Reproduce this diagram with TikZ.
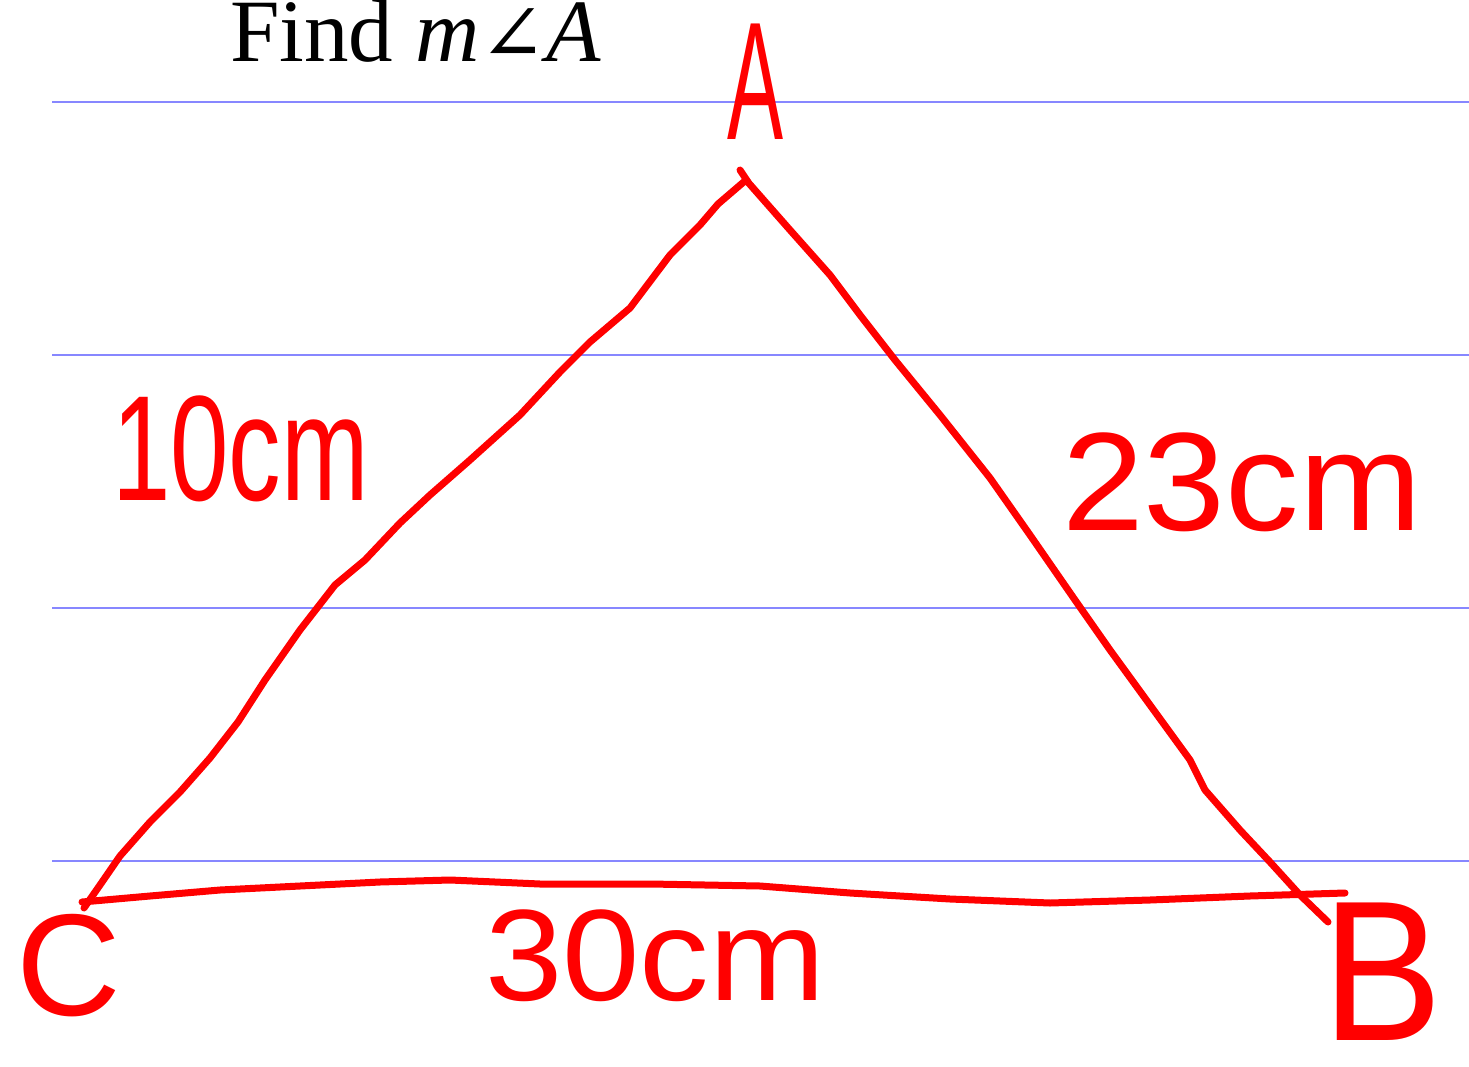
\documentclass[tikz,border=0pt]{standalone}
\usepackage{fontspec}
\setmainfont{Liberation Serif}
\newfontfamily\handfont{Liberation Sans}
\newfontfamily\anglefont{DejaVu Serif}
\begin{document}
\begin{tikzpicture}[x=1pt,y=-1pt,
  rule/.style={draw={rgb,255:red,135;green,135;blue,255},line width=2.5pt},
  side/.style={draw=red,line width=7pt,line cap=round,line join=round},
  hand/.style={text=red,inner sep=0pt,anchor=base west,font=\handfont}]
\useasboundingbox[fill=white] (0,0) rectangle (1469,1067);
% ruled lines
\foreach \yy/\nm in {102/r1,355/r2,608/r3,861/r4}{
  \coordinate (\nm a) at (52,\yy);
  \coordinate (\nm b) at (1469,\yy);
  \draw[rule] (\nm a) -- (\nm b);
}
% title
\node[anchor=base west,inner sep=0pt,font=\fontsize{89}{100}\selectfont] (title) at (230,62) {Find \textit{m}{\anglefont\fontsize{80}{90}\selectfont ∠}\textit{A}};
% vertices
\coordinate (A) at (746,180);
\coordinate (B) at (1328,922);
\coordinate (C) at (84,908);
\coordinate (Bend) at (1345,893);
\coordinate (Cstart) at (82,902);
% sides
\draw[side] (740,170) -- (748,182) -- (A);
\draw[side] (A) -- (718,204) -- (700,225) -- (670,255) -- (630,308) -- (590,342) -- (560,372)
  -- (520,415) -- (470,460) -- (430,495) -- (400,523) -- (365,560) -- (335,585)
  -- (300,630) -- (265,680) -- (238,722) -- (210,758) -- (180,792) -- (150,822)
  -- (120,856) -- (100,885) -- (C);
\draw[side] (A) -- (790,230) -- (830,275) -- (860,315) -- (895,360) -- (940,415)
  -- (990,478) -- (1030,535) -- (1075,600) -- (1110,650) -- (1150,705) -- (1190,760)
  -- (1205,790) -- (1240,830) -- (1270,862) -- (1300,895) -- (B);
\draw[side] (Cstart) -- (150,896) -- (220,890) -- (300,886) -- (380,882) -- (450,880)
  -- (540,884) -- (650,884) -- (760,886) -- (850,893) -- (950,899) -- (1050,903)
  -- (1150,900) -- (1250,896) -- (Bend);
% labels
\node[hand,font=\handfont\fontsize{168}{170}\selectfont,xscale=0.5] (lA) at (727,140) {A};
\node[hand,font=\handfont\fontsize{150}{150}\selectfont,xscale=0.7] (l10) at (112,500) {10cm};
\node[hand,font=\handfont\fontsize{140}{140}\selectfont,xscale=1.05] (l23) at (1062,530) {23cm};
\node[hand,font=\handfont\fontsize{130}{130}\selectfont,xscale=1.07] (l30) at (485,1000) {30cm};
\node[hand,font=\handfont\fontsize{145}{145}\selectfont] (lC) at (16,1015) {C};
\node[hand,font=\handfont\fontsize{200}{200}\selectfont,xscale=0.9] (lB) at (1322,1040) {B};
\end{tikzpicture}
\end{document}
